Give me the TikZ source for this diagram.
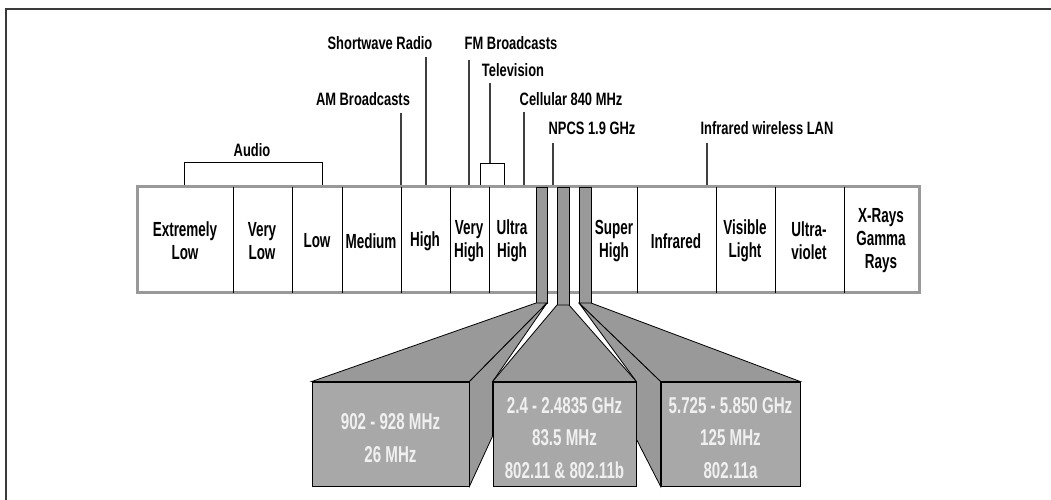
\documentclass[tikz,border=0pt]{standalone}
\usepackage{fontspec}
\setmainfont{Liberation Sans}[FakeStretch=0.72]
\newfontfamily\cellfont{Liberation Sans}[FakeStretch=0.66]
\newfontfamily\boxfont{Liberation Sans}[FakeStretch=0.66]
\usetikzlibrary{calc}
\definecolor{bandgray}{HTML}{999999}
\definecolor{facegray}{HTML}{999999}
\definecolor{frontgray}{HTML}{A8A8A8}
\definecolor{framegray}{HTML}{3A3A3A}

\begin{document}
\begin{tikzpicture}[x=1bp,y=-1bp,line join=miter,
  lbl/.style={font=\bfseries\fontsize{18}{20}\selectfont,inner sep=0pt,anchor=base},
  cell/.style={font=\cellfont\bfseries\fontsize{20.5}{23}\selectfont,align=center,inner sep=0pt},
  tick/.style={line width=1.2bp,black!75},
  bar/.style={draw=black,line width=0.8bp,fill=facegray},
  face/.style={draw=black,line width=0.8bp,fill=facegray},
  front/.style={draw=black,line width=0.8bp,fill=frontgray,minimum height=104bp,inner sep=0pt},
  boxtxt/.style={text=white!94!black,font=\boxfont\bfseries\fontsize{23}{33}\selectfont,align=center,inner sep=0pt,yshift=-4bp}]
  \useasboundingbox (0,0) rectangle (1051,500);
  % frame
  \draw[line width=2bp,framegray] (6,500) -- (6,9) -- (1051,9);

  % spectrum band
  \node[draw=bandgray,line width=3bp,minimum width=781bp,minimum height=106bp,inner sep=0pt] (band) at (528.5,240) {};
  \foreach \x in {233,292,342,401,450,489,637,716,775,844}
    \draw[line width=0.9bp] (\x,187) -- (\x,293);
  \foreach \x/\t/\n in {185/{Extremely\\Low}/elf, 262/{Very\\Low}/vlf, 317/{Low}/lf,
      371/{Medium}/mf, 425/{High}/hf, 469/{Very\\High}/vhf, 512/{Ultra\\High}/uhf,
      614/{Super\\High}/shf, 676/{Infrared}/ir, 745/{Visible\\Light}/vis,
      809/{Ultra-\\violet}/uv, 881/{X-Rays\\Gamma\\Rays}/xr}
    \node[cell] (\n) at (\x,241) {\t};

  % labels above the band
  \node[lbl] (audio) at (252,157) {Audio};
  \node[lbl] (am) at (363,105.5) {AM Broadcasts};
  \node[lbl] (sw) at (380,49.5) {Shortwave Radio};
  \node[lbl] (fm) at (511,49.5) {FM Broadcasts};
  \node[lbl] (tv) at (513,76.5) {Television};
  \node[lbl] (cell) at (571,105.5) {Cellular 840 MHz};
  \node[lbl] (npcs) at (592,134.5) {NPCS 1.9 GHz};
  \node[lbl] (irlan) at (767,134.5) {Infrared wireless LAN};

  \coordinate (auL) at (184,162);
  \coordinate (auR) at (322,162);
  \coordinate (amT) at (401,113);
  \coordinate (swT) at (426,57);
  \coordinate (fmT) at (469,60);
  \coordinate (tvT) at (490,83);
  \coordinate (tvL) at (480,163);
  \coordinate (tvR) at (504,163);
  \coordinate (ceT) at (524,112);
  \coordinate (npT) at (553,143);
  \coordinate (irT) at (707,143);

  \draw[line width=0.9bp] (auL |- band.north) -- (auL) -- (auR) -- (auR |- band.north);
  \draw[line width=0.9bp] (tvL |- band.north) -- (tvL) -- (tvR) -- (tvR |- band.north);
  \draw[tick] (tvT) -- (tvT |- tvL);
  \draw[tick] (amT) -- (amT |- band.north);
  \draw[tick] (swT) -- (swT |- band.north);
  \draw[tick] (fmT) -- (fmT |- band.north);
  \draw[tick] (ceT) -- (ceT |- band.north);
  \draw[tick] (npT) -- (npT |- band.north);
  \draw[tick] (irT) -- (irT |- band.north);

  % the three bands, drawn out below
  \filldraw[bar] (536,187) rectangle (547,303);
  \filldraw[bar] (557,187) rectangle (569,305);
  \filldraw[bar] (579,187) rectangle (591,303);
  \coordinate (b1l) at (536,303);
  \coordinate (b1r) at (547,303);
  \coordinate (b2l) at (557,305);
  \coordinate (b2r) at (569,305);
  \coordinate (b3l) at (579,303);
  \coordinate (b3r) at (591,303);

  \node[front,minimum width=157bp] (f1) at (390.5,434) {};
  \node[front,minimum width=143bp] (f2) at (564.5,434) {};
  \node[front,minimum width=139bp] (f3) at (730.5,434) {};

  \filldraw[face] (b1l) -- (b1r) -- (f1.north east) -- (f1.north west) -- cycle;
  \filldraw[face] (b1r) -- (f2.north west) -- ($(f2.north west)!0.52!(f2.south west)$)
    -- (f1.south east) -- (f1.north east) -- cycle;
  \filldraw[face] (b2l) -- (b2r) -- (f2.north east) -- (f2.north west) -- cycle;
  \filldraw[face] (b3l) -- (b3r) -- (f3.north east) -- (f3.north west) -- cycle;
  \filldraw[face] (b3l) -- (f2.north east) -- ($(f2.north east)!0.55!(f2.south east)$)
    -- (f3.south west) -- (f3.north west) -- cycle;

  \node[boxtxt] (t1) at (f1.center) {902 - 928 MHz\\26 MHz};
  \node[boxtxt] (t2) at (f2.center) {2.4 - 2.4835 GHz\\83.5 MHz\\802.11 \& 802.11b};
  \node[boxtxt] (t3) at (f3.center) {5.725 - 5.850 GHz\\125 MHz\\802.11a};
\end{tikzpicture}
\end{document}
